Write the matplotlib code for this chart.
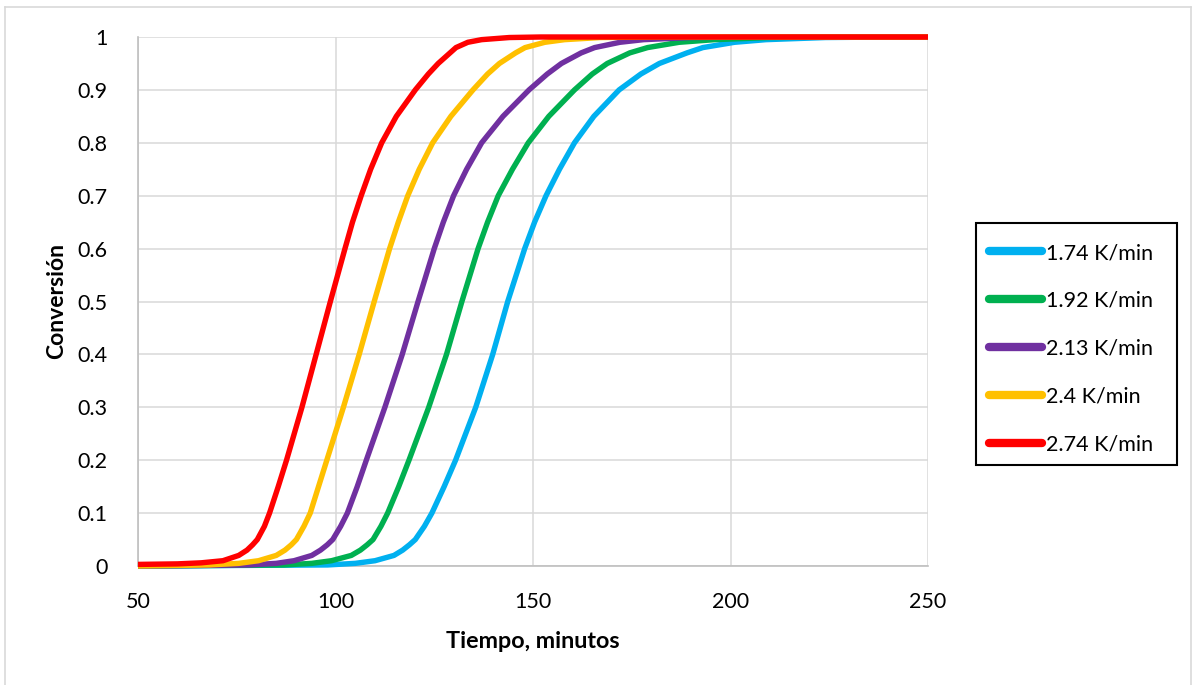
import matplotlib
matplotlib.use("Agg")
import matplotlib.pyplot as plt
from matplotlib.lines import Line2D
from matplotlib.patches import Rectangle

plt.rcParams['font.family'] = ['Lato', 'DejaVu Sans']

# Conversion levels shared by the 1.74 - 2.4 K/min curves
conv_levels = [0, 0.002, 0.005, 0.01, 0.02, 0.03, 0.04, 0.05, 0.075, 0.1, 0.15, 0.2,
               0.3, 0.4, 0.5, 0.6, 0.65, 0.7, 0.75, 0.8, 0.85, 0.9, 0.93, 0.95, 0.97,
               0.98, 0.99, 0.995, 0.999, 1.0, 1.0]

# Time (min) at which each curve reaches the levels above
t_174 = [50, 98, 105, 110, 114.8, 117, 118.7, 120.2, 122.5, 124.4, 127.5, 130.4,
         135.5, 139.8, 143.6, 147.9, 150.4, 153.3, 156.7, 160.5, 165.4, 171.8, 177.3,
         182, 189, 193, 201, 209, 224, 240, 250]
t_192 = [50, 87, 94, 99, 104, 106.3, 108.0, 109.5, 111.5, 113.2, 116, 118.6,
         123.6, 128.1, 132.0, 136.1, 138.5, 141.2, 144.8, 148.8, 154.0, 160.5,
         165.0, 168.8, 174.5, 179, 187, 196, 210, 225, 250]
t_213 = [50, 78, 85, 89.5, 94, 96.2, 97.9, 99.3, 101.3, 103, 105.5, 107.8,
         112.5, 116.9, 120.9, 125.0, 127.3, 129.9, 133.2, 137.0, 142.4, 149.0,
         153.6, 157.2, 162.2, 165.6, 172, 178, 190, 205, 250]
t_240 = [50, 68, 75.5, 80.5, 85.0, 87.2, 88.8, 90.1, 92.0, 93.6, 95.7, 97.8,
         102.0, 106.0, 109.8, 113.7, 115.9, 118.3, 121.2, 124.6, 129.2, 134.8,
         138.5, 141.5, 145.6, 148, 153, 158, 167, 180, 250]

# The 2.74 K/min curve already starts slightly above zero
conv_274 = [0.003, 0.004, 0.006, 0.01, 0.02, 0.03, 0.04, 0.05, 0.075, 0.1, 0.15,
            0.2, 0.3, 0.4, 0.5, 0.6, 0.65, 0.7, 0.75, 0.8, 0.85, 0.9, 0.93, 0.95,
            0.97, 0.98, 0.99, 0.995, 0.999, 1.0, 1.0]
t_274 = [50, 60, 66, 71.5, 75.5, 77.6, 79.0, 80.2, 82.0, 83.3, 85.5, 87.6, 91.5,
         95.1, 98.7, 102.4, 104.3, 106.5, 108.9, 111.7, 115.4, 120.2, 123.5, 126,
         129, 130.5, 133.5, 137, 144, 152, 250]

series_labels = ['1.74 K/min', '1.92 K/min', '2.13 K/min', '2.4 K/min', '2.74 K/min']
series_colors = ['#00B0F0', '#00B050', '#7030A0', '#FFC000', '#FF0000']
series_t = [t_174, t_192, t_213, t_240, t_274]
series_x = [conv_levels, conv_levels, conv_levels, conv_levels, conv_274]

x_ticks = [50, 100, 150, 200, 250]
y_ticks = [0, 0.1, 0.2, 0.3, 0.4, 0.5, 0.6, 0.7, 0.8, 0.9, 1]
y_tick_labels = ['0', '0.1', '0.2', '0.3', '0.4', '0.5', '0.6', '0.7', '0.8', '0.9', '1']

W, H = 1192, 685
fig = plt.figure(figsize=(W / 100, H / 100), dpi=100)

# outer chart frame
frame_color = '#d9d9d9'
fig.add_artist(Line2D([5 / W, 5 / W], [0, 1 - 7 / H], color=frame_color, lw=1.2))
fig.add_artist(Line2D([5 / W, 1190.5 / W], [1 - 7 / H, 1 - 7 / H], color=frame_color, lw=1.2))
fig.add_artist(Line2D([1190.5 / W, 1190.5 / W], [0, 1 - 7 / H], color=frame_color, lw=1.2))

left, right, top, bottom = 138, 928, 37, 566
ax = fig.add_axes([left / W, 1 - bottom / H, (right - left) / W, (bottom - top) / H])

for t, x, c, lab in zip(series_t, series_x, series_colors, series_labels):
    ax.plot(t, x, color=c, lw=3.9, label=lab, solid_joinstyle='round',
            solid_capstyle='butt', clip_on=False, zorder=3)

ax.set_xlim(50, 250)
ax.set_ylim(0, 1)
ax.set_xticks(x_ticks)
ax.set_yticks(y_ticks)
ax.set_yticklabels(y_tick_labels)
ax.grid(True, color='#d9d9d9', lw=1.1, zorder=0)
ax.set_axisbelow(True)
for s in ['top', 'right']:
    ax.spines[s].set_visible(False)
for s in ['left', 'bottom']:
    ax.spines[s].set_color('#bfbfbf')
    ax.spines[s].set_linewidth(1.2)
ax.tick_params(axis='both', length=0, labelsize=15.5, colors='black')
ax.tick_params(axis='y', pad=22)
ax.tick_params(axis='x', pad=19)

fig.text(533 / W, 1 - 641 / H, 'Tiempo, minutos', fontsize=16.8, fontweight='bold',
         ha='center', va='center')
fig.text(57 / W, 1 - 301 / H, 'Conversión', fontsize=16.5, fontweight='bold',
         ha='center', va='center', rotation=90)

# legend box
fig.add_artist(Rectangle((975.5 / W, 1 - 465 / H), 201.5 / W, 242.3 / H,
                         transform=fig.transFigure, fill=False, edgecolor='black',
                         lw=1.5))
leg = ax.legend(loc='upper left', bbox_to_anchor=(989 / W, 1 - 243 / H),
                bbox_transform=fig.transFigure, frameon=False,
                fontsize=15.5, handlelength=2.45, handletextpad=0.2, labelspacing=1.3,
                borderpad=0, borderaxespad=0)
for line in leg.get_lines():
    line.set_linewidth(6)
    line.set_solid_capstyle('round')

fig.savefig('out.png', dpi=100)
